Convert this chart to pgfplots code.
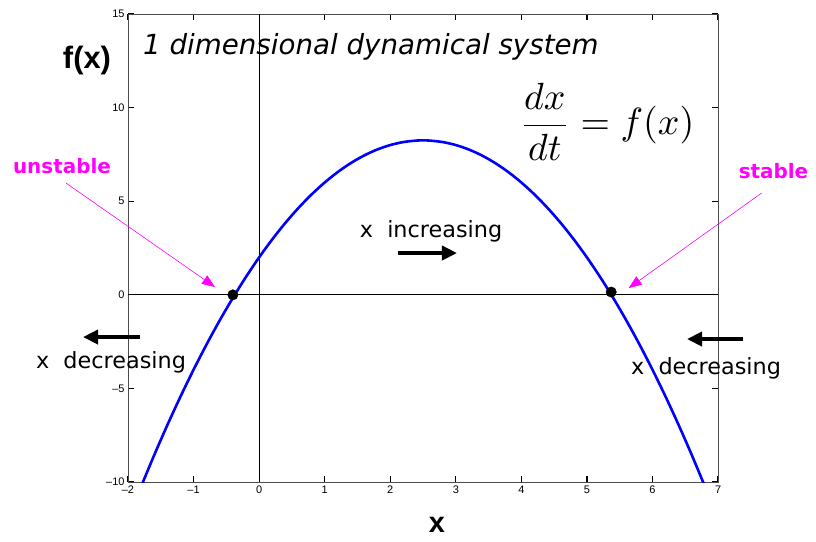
\documentclass[border=0pt]{standalone}
\usepackage[no-math]{fontspec}
\setmainfont{DejaVu Sans}
\newfontfamily\helv{Liberation Sans}
\usepackage{pgfplots}
\pgfplotsset{compat=1.18}
\usetikzlibrary{arrows.meta}
\definecolor{mag}{rgb}{1,0,1}
\begin{document}
\begin{tikzpicture}
\begin{axis}[
  scale only axis,
  width=590bp, height=468bp,
  xmin=-2, xmax=7, ymin=-10, ymax=15,
  xtick={-2,-1,0,1,2,3,4,5,6,7},
  xticklabels={\textendash2,\textendash1,0,1,2,3,4,5,6,7},
  ytick={-10,-5,0,5,10,15},
  yticklabels={\textendash10,\textendash5,0,5,10,15},
  tick align=inside,
  major tick length=6bp,
  axis line style={black!70, line width=0.8bp},
  tick style={black, line width=1.2bp},
  tick label style={font=\helv\fontsize{11}{12}\selectfont},
  xticklabel style={yshift=0bp},
  yticklabel style={xshift=0bp},
  clip=false,
]
% bounding box matching reference
\path (axis cs:-3.952,15.748) rectangle (axis cs:8.494,-13.152);
% zero lines
\addplot[black, line width=0.8bp, forget plot] coordinates {(-2,0) (7,0)};
\addplot[black, line width=0.8bp, forget plot] coordinates {(0,-10) (0,15)};
% curve
\begin{scope}
\clip (axis cs:-2,-10) rectangle (axis cs:7,15);
\addplot[blue, line width=2.6bp, smooth] table {
x y
-1.8 -10.24
-1.6 -8.56
-1.4 -6.96
-1.2 -5.44
-1.0 -4.00
-0.8 -2.64
-0.6 -1.36
-0.4 -0.16
-0.2 0.96
0.0 2.00
0.2 2.96
0.4 3.84
0.6 4.64
0.8 5.36
1.0 6.00
1.2 6.56
1.4 7.04
1.6 7.44
1.8 7.76
2.0 8.00
2.2 8.16
2.4 8.24
2.5 8.25
2.6 8.24
2.8 8.16
3.0 8.00
3.2 7.76
3.4 7.44
3.6 7.04
3.8 6.56
4.0 6.00
4.2 5.36
4.4 4.64
4.6 3.84
4.8 2.96
5.0 2.00
5.2 0.96
5.4 -0.16
5.6 -1.36
5.8 -2.64
6.0 -4.00
6.2 -5.44
6.4 -6.96
6.6 -8.56
6.8 -10.24
};
\end{scope}
% fixed points
\addplot[only marks, mark=*, mark size=5.2bp, black] coordinates {(-0.40,0) (5.37,0.15)};
% title and labels
\node[anchor=base west, font=\itshape\fontsize{27.8}{30}\selectfont, inner sep=0] at (axis cs:-1.771,12.863) {1 dimensional dynamical system};
\node[font=\helv\bfseries\fontsize{31}{34}\selectfont, inner sep=0] at (axis cs:-2.625,12.49) {f(x)};
\node[font=\helv\bfseries\fontsize{29}{32}\selectfont, inner sep=0] at (axis cs:2.713,-12.30) {x};
\node[inner sep=0, scale=3.8] at (axis cs:5.306,9.231) {$\displaystyle \frac{dx}{dt} = f(x)$};
% x increasing / decreasing
\node[anchor=base, inner sep=0, font=\fontsize{22.4}{24}\selectfont] at (axis cs:2.622,3.088) {x\ \ increasing};
\draw[line width=4bp, -{Triangle[length=15bp,width=14bp]}] (axis cs:2.118,2.233) -- (axis cs:3.018,2.233);
\draw[line width=4bp, -{Triangle[length=15bp,width=14bp]}] (axis cs:-1.817,-2.254) -- (axis cs:-2.686,-2.254);
\node[anchor=base, inner sep=0, font=\fontsize{22.4}{24}\selectfont] at (axis cs:-2.259,-3.910) {x\ \ decreasing};
\draw[line width=4bp, -{Triangle[length=15bp,width=14bp]}] (axis cs:7.381,-2.361) -- (axis cs:6.527,-2.361);
\node[anchor=base, inner sep=0, font=\fontsize{22.4}{24}\selectfont] at (axis cs:6.817,-4.231) {x\ \ decreasing};
% stability annotations
\node[anchor=base, inner sep=0, text=mag, font=\bfseries\fontsize{20}{24}\selectfont] at (axis cs:-3.007,6.506) {unstable};
\draw[mag, line width=0.6bp, -{Triangle[length=13bp,width=10bp]}] (axis cs:-2.946,5.972) -- (axis cs:-0.673,0.417);
\node[anchor=base, inner sep=0, text=mag, font=\bfseries\fontsize{20}{24}\selectfont] at (axis cs:7.846,6.239) {stable};
\draw[mag, line width=0.6bp, -{Triangle[length=13bp,width=10bp]}] (axis cs:7.665,5.438) -- (axis cs:5.637,0.363);
\end{axis}
\end{tikzpicture}
\end{document}
